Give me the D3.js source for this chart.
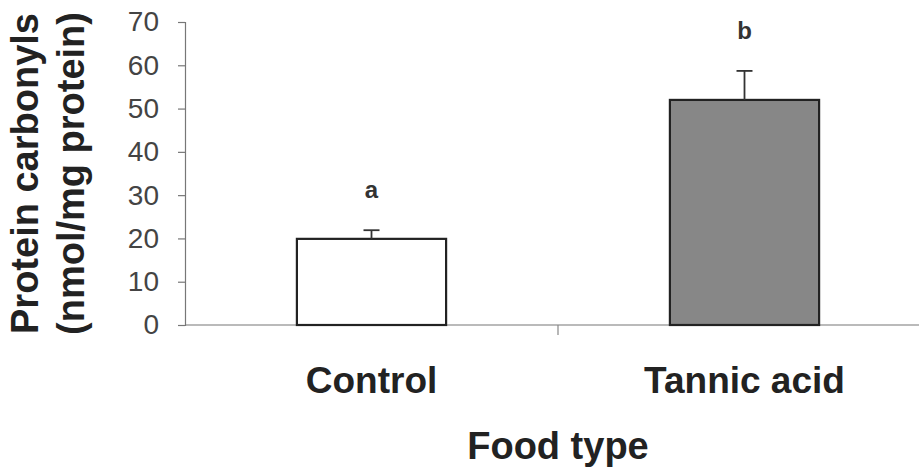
<!DOCTYPE html>
<html>
<head>
<meta charset="utf-8">
<script src="https://cdn.jsdelivr.net/npm/d3@7"></script>
<style>
  html, body { margin: 0; padding: 0; background: #fff; }
  svg { display: block; }
</style>
</head>
<body>
<div id="chart"></div>
<script>
const width = 919;
const height = 471;

// data
const categories = ["Control", "Tannic acid"];
const means = [19.9, 52.0];
const errors = [2.0, 6.7];
const letters = ["a", "b"];
const yTicks = [0, 10, 20, 30, 40, 50, 60, 70];
const fills = ["#ffffff", "#878787"];

const svg = d3.select("#chart")
  .append("svg")
  .attr("width", width)
  .attr("height", height)
  .attr("font-family", "Liberation Sans, Arial, sans-serif");

const x = d3.scaleBand()
  .domain(categories)
  .range([185, 931])
  .paddingInner(0.6)
  .paddingOuter(0.3);

const y = d3.scaleLinear()
  .domain([0, 70])
  .range([325, 22]);

// y axis
const yAxis = svg.append("g")
  .attr("transform", "translate(185,0)")
  .call(d3.axisLeft(y).tickValues(yTicks).tickSize(7).tickPadding(19).tickFormat(d3.format("d")));
yAxis.select(".domain").attr("stroke", "#777").attr("stroke-width", 1.2);
yAxis.selectAll(".tick line").attr("stroke", "#777").attr("stroke-width", 1.2);
yAxis.selectAll(".tick text")
  .attr("font-size", 28)
  .attr("fill", "#444");

// x axis line + separator tick between categories
svg.append("line")
  .attr("x1", 185).attr("x2", width)
  .attr("y1", y(0)).attr("y2", y(0))
  .attr("stroke", "#777").attr("stroke-width", 1.2);

const sep = x(categories[1]) - x.step() * x.paddingInner() / 2;
svg.append("line")
  .attr("x1", sep).attr("x2", sep)
  .attr("y1", y(0)).attr("y2", y(0) + 10)
  .attr("stroke", "#888").attr("stroke-width", 1.2);

// bars
const data = categories.map((c, i) => ({ c, m: means[i], e: errors[i], l: letters[i], f: fills[i] }));

svg.append("g")
  .selectAll("rect")
  .data(data)
  .join("rect")
  .attr("x", d => x(d.c))
  .attr("y", d => y(d.m))
  .attr("width", x.bandwidth())
  .attr("height", d => y(0) - y(d.m))
  .attr("fill", d => d.f)
  .attr("stroke", "#222")
  .attr("stroke-width", 2.2);

// error bars (upper only)
const err = svg.append("g").attr("stroke", "#333").attr("stroke-width", 1.8);
err.selectAll("line.v")
  .data(data)
  .join("line")
  .attr("class", "v")
  .attr("x1", d => x(d.c) + x.bandwidth() / 2)
  .attr("x2", d => x(d.c) + x.bandwidth() / 2)
  .attr("y1", d => y(d.m))
  .attr("y2", d => y(d.m + d.e));
err.selectAll("line.cap")
  .data(data)
  .join("line")
  .attr("class", "cap")
  .attr("x1", d => x(d.c) + x.bandwidth() / 2 - 8)
  .attr("x2", d => x(d.c) + x.bandwidth() / 2 + 8)
  .attr("y1", d => y(d.m + d.e))
  .attr("y2", d => y(d.m + d.e));

// significance letters
svg.append("g")
  .selectAll("text")
  .data(data)
  .join("text")
  .attr("x", d => x(d.c) + x.bandwidth() / 2)
  .attr("y", d => y(d.m + d.e) - 32)
  .attr("text-anchor", "middle")
  .attr("font-size", 24)
  .attr("font-weight", "bold")
  .attr("fill", "#333")
  .text(d => d.l);

// category labels
svg.append("g")
  .selectAll("text")
  .data(data)
  .join("text")
  .attr("x", d => x(d.c) + x.bandwidth() / 2)
  .attr("y", 393)
  .attr("text-anchor", "middle")
  .attr("font-size", 37)
  .attr("font-weight", "bold")
  .attr("fill", "#222")
  .text(d => d.c);

// axis titles
svg.append("text")
  .attr("x", (185 + 931) / 2)
  .attr("y", 459)
  .attr("text-anchor", "middle")
  .attr("font-size", 38)
  .attr("font-weight", "bold")
  .attr("fill", "#222")
  .text("Food type");

const yTitle = svg.append("text")
  .attr("transform", `translate(38,${(y(0) + y(70)) / 2}) rotate(-90)`)
  .attr("text-anchor", "middle")
  .attr("font-size", 38)
  .attr("font-weight", "bold")
  .attr("fill", "#222");
yTitle.append("tspan").attr("x", 0).attr("y", 0).text("Protein carbonyls");
yTitle.append("tspan").attr("x", 0).attr("y", 46).text("(nmol/mg protein)");
</script>
</body>
</html>
